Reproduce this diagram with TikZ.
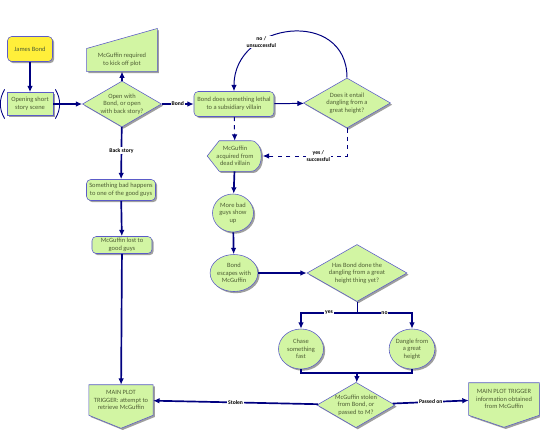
\documentclass[tikz,border=0pt]{standalone}
\usepackage{fontspec}
\setmainfont{Carlito}
\usepackage{tikz}
\usetikzlibrary{arrows.meta, positioning, shapes.geometric, shadows, backgrounds}
\definecolor{navyline}{HTML}{000080}
\definecolor{limefill}{HTML}{D2F5A3}
\definecolor{boxedge}{HTML}{5B5BC8}
\definecolor{bondyellow}{HTML}{FFEF3A}
\definecolor{textgreen}{HTML}{4F5F35}

\begin{document}
\begin{tikzpicture}[x=0.025cm, y=-0.025cm,
    every node/.style={font=\fontsize{4.6}{5.4}\selectfont, text=textgreen, align=center},
    shadowed/.style={drop shadow={shadow xshift=1.2pt, shadow yshift=-1.2pt, fill=gray!75, opacity=1}},
    box/.style={rectangle, rounded corners=3pt, draw=boxedge, fill=limefill, shadowed, inner sep=1pt},
    decision/.style={diamond, draw=boxedge, fill=limefill, shadowed, inner sep=0pt, aspect=1.7},
    blob/.style={ellipse, draw=boxedge, fill=limefill, shadowed, inner sep=0pt},
    shapefill/.style={draw=boxedge, fill=limefill, shadowed},
    flow/.style={-{Latex[length=1.6mm,width=1.4mm]}, line width=1.2pt, color=navyline},
    thinflow/.style={-{Latex[length=1.6mm,width=1.4mm]}, line width=0.7pt, color=navyline},
    dashflow/.style={thinflow, dashed},
    flab/.style={font=\fontsize{4}{4.6}\selectfont\bfseries, text=black, fill=white, inner sep=0.5pt}
]
\useasboundingbox (0,0) rectangle (540,429);

% Opening
\node[box, fill=bondyellow, minimum width=1.125cm, minimum height=0.625cm] (jb) at (30,49) {James Bond};
\node[box, rounded corners=0pt, minimum width=1.15cm, minimum height=0.575cm] (open) at (30,104) {Opening short\\story scene};
\draw[navyline, line width=0.6pt] ([xshift=-1.5pt,yshift=2pt]open.north west) to[bend right=30] ([xshift=-1.5pt,yshift=-2pt]open.south west);
\draw[navyline, line width=0.6pt] ([xshift=1.5pt,yshift=2pt]open.north east) to[bend left=30] ([xshift=1.5pt,yshift=-2pt]open.south east);
\node[decision, minimum width=1.975cm, minimum height=1.1cm] (q1) at (122,104) {Open with\\Bond, or open\\with back story?};
\node[minimum width=1.75cm, minimum height=0.5cm] (req) at (122,60) {McGuffin required\\to kick off plot};

% Bond thread
\node[box, minimum width=2cm, minimum height=0.625cm] (lethal) at (234,104) {Bond does something lethal\\to a subsidiary villain};
\node[decision, minimum width=2.175cm, minimum height=1.25cm] (q2) at (347,103) {Does it entail\\dangling from a\\great height?};
\node[minimum width=1.375cm, minimum height=0.75cm] (acq) at (235,156) {McGuffin\\acquired from\\dead villain};
\node[blob, minimum width=1.025cm, minimum height=0.95cm] (more) at (233,213) {More bad\\guys show\\up};
\node[blob, minimum width=1.125cm, minimum height=0.925cm] (escape) at (234,273) {Bond\\escapes with\\McGuffin};
\node[decision, minimum width=2.5cm, minimum height=1.425cm] (q3) at (357,273) {Has Bond done the\\dangling from a great\\height thing yet?};
\node[blob, minimum width=1.125cm, minimum height=1cm] (chase) at (301,349) {Chase\\something\\fast};
\node[blob, minimum width=1.05cm, minimum height=1cm] (dangle) at (412,349) {Dangle from\\a great\\height};
\node[decision, minimum width=1.95cm, minimum height=1.125cm] (q4) at (356,405) {McGuffin stolen\\from Bond, or\\passed to M?};

% Back story thread
\node[box, minimum width=1.725cm, minimum height=0.525cm] (bad) at (121,190) {Something bad happens\\to one of the good guys};
\node[box, minimum width=1.5cm, minimum height=0.425cm] (lost) at (122,245) {McGuffin lost to\\good guys};

% Plot triggers
\node[minimum width=1.55cm, minimum height=0.75cm] (mpt1) at (121,400) {MAIN PLOT\\TRIGGER: attempt to\\retrieve McGuffin};
\node[minimum width=1.75cm, minimum height=0.8cm] (mpt2) at (504,399) {MAIN PLOT TRIGGER\\information obtained\\from McGuffin};

% Outlines of the odd shapes
\begin{scope}[on background layer]
\path[shapefill] (req.south west) -- (req.south east) -- ([yshift=0.5cm]req.north east) -- (req.north west) -- cycle;
\path[shapefill] (acq.west) -- ([xshift=0.3cm]acq.north west) -- ([xshift=-0.3cm]acq.north east)
    .. controls ([xshift=0.05cm]acq.north east) and ([xshift=0.05cm]acq.south east) .. ([xshift=-0.3cm]acq.south east)
    -- ([xshift=0.3cm]acq.south west) -- cycle;
\path[shapefill] (mpt1.north west) -- (mpt1.north east) -- (mpt1.south east) -- ([yshift=-0.325cm]mpt1.south) -- (mpt1.south west) -- cycle;
\path[shapefill] (mpt2.north west) -- (mpt2.north east) -- (mpt2.south east) -- ([yshift=-0.3cm]mpt2.south) -- (mpt2.south west) -- cycle;
\end{scope}

% Flows
\draw[flow] (jb) -- (open);
\draw[flow] (open) -- (q1);
\draw[flow] (q1) -- (req);
\draw[flow] (q1) -- (lethal) node[flab, midway]{Bond};
\draw[thinflow] (lethal) -- (q2);
\draw[thinflow] (q2.north) .. controls +(0,-70) and +(0,-70) .. (lethal.north) node[flab, pos=0.68]{no /\\unsuccessful};
\draw[dashflow] (q2.south) |- (acq.east) node[flab, pos=0.67]{yes /\\successful};
\draw[dashflow] (lethal) -- (acq);
\draw[flow] (acq) -- (more);
\draw[flow] (more) -- (escape);
\draw[flow] (escape) -- (q3);
\coordinate (split) at (357,313);
\coordinate (join) at (357,373);
\draw[thinflow, -] (q3.south) -- (split);
\draw[flow] (split) -| (chase) node[flab, pos=0.25]{yes};
\draw[flow] (split) -| (dangle) node[flab, pos=0.25]{no};
\draw[flow, -] (chase) |- (join);
\draw[flow, -] (dangle) |- (join);
\draw[flow] (join) -- (q4);
\draw[flow] (q4) -- (mpt1) node[flab, midway]{Stolen};
\draw[flow] (q4) -- (mpt2) node[flab, midway]{Passed on};
\draw[flow] (q1) -- (bad) node[flab, pos=0.45]{Back story};
\draw[flow] (bad) -- (lost);
\draw[flow] (lost) -- (mpt1);
\end{tikzpicture}
\end{document}
